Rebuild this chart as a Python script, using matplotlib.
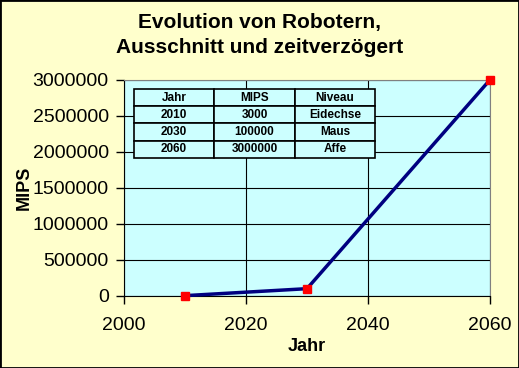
import matplotlib
matplotlib.use("Agg")
import matplotlib.pyplot as plt
from matplotlib.ticker import FuncFormatter

years = [2010, 2030, 2060]
mips = [3000, 100000, 3000000]
levels = ["Eidechse", "Maus", "Affe"]
table_header = ["Jahr", "MIPS", "Niveau"]

plt.rcParams['font.family'] = ['Liberation Sans', 'DejaVu Sans']

fig = plt.figure(figsize=(5.19, 3.68), dpi=100, facecolor='#FFFFCC')
fig.patches.append(plt.Rectangle((0, 0), 1, 1, transform=fig.transFigure,
                                 fill=False, edgecolor='black', linewidth=2))
ax = fig.add_axes([0.239, 0.196, 0.705, 0.587])
ax.set_facecolor('#CCFFFF')

ax.plot(years, mips, color='#000080', linewidth=2.5, marker='s',
        markersize=6, markerfacecolor='#FF0000', markeredgecolor='#FF0000',
        clip_on=False, zorder=3)

ax.set_xlim(2000, 2060)
ax.set_ylim(0, 3000000)
ax.set_xticks([2000, 2020, 2040, 2060])
ax.set_yticks(range(0, 3000001, 500000))
ax.yaxis.set_major_formatter(FuncFormatter(lambda v, p: '%d' % v))
ax.grid(True, color='black', linewidth=0.8)
ax.set_axisbelow(True)
for s in ['top', 'right']:
    ax.spines[s].set_color('#808080')
for s in ['left', 'bottom']:
    ax.spines[s].set_color('black')
ax.tick_params(direction='out', length=6, width=1, labelsize=14, pad=5)
ax.tick_params(axis='x', pad=9)

ax.set_xlabel('Jahr', fontsize=13, fontweight='bold', labelpad=3)
ax.set_ylabel('MIPS', fontsize=13, fontweight='bold', labelpad=0)
fig.text(0.5, 0.965, 'Evolution von Robotern,\nAusschnitt und zeitverzögert',
         ha='center', va='top', fontsize=15, fontweight='bold', linespacing=1.4)

cells = [[str(y), str(m), l] for y, m, l in zip(years, mips, levels)]
tbl = ax.table(cellText=cells, colLabels=table_header, cellLoc='center',
               bbox=[0.027, 0.639, 0.659, 0.319])
tbl.auto_set_font_size(False)
for (r, c), cell in tbl.get_celld().items():
    cell.set_facecolor('#CCFFFF')
    cell.set_edgecolor('black')
    cell.set_linewidth(1.2)
    cell.get_text().set_fontsize(8.5)
    cell.get_text().set_fontweight('bold')
tbl.set_zorder(4)

fig.savefig('out.png', dpi=100, facecolor=fig.get_facecolor())
